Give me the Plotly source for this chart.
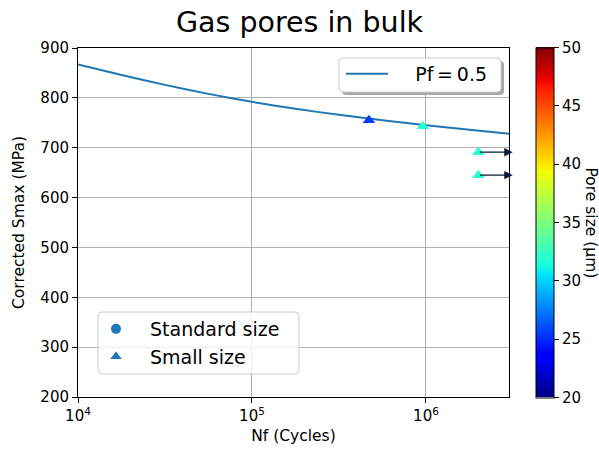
import numpy as np
import plotly.graph_objects as go

# ---------------- data ----------------
curve_nf = [1e4, 1.78e4, 3.16e4, 5.62e4, 1e5, 1.78e5, 3.16e5, 5.62e5, 1e6, 1.78e6, 3e6]
curve_s = [867, 846, 826, 808, 792, 778, 766, 755, 745, 736, 728]
curve_name = "\u2003\u2006Pf\u2009=\u20090.5"

pts_nf = [4.7e5, 9.6e5, 2.0e6, 2.0e6]
pts_s = [755, 743, 691, 645]
pts_pore = [25.5, 32.0, 32.0, 32.0]

runout_start = [2.0e6, 2.0e6]
runout_end = [3.15e6, 3.15e6]
runout_s = [691, 645]

x_tickvals = [1e4, 1e5, 1e6]
x_ticktext = ["10<sup>4</sup>", "10<sup>5</sup>", "10<sup>6</sup>"]
y_tickvals = [200, 300, 400, 500, 600, 700, 800, 900]
cb_tickvals = [20, 25, 30, 35, 40, 45, 50]

# ---------------- style helpers ----------------
W, H = 599, 453
L, R, T, B = 78, 509, 48, 397  # plot-area edges in pixels


def px_x(px):
    return (px - L) / (R - L)


def px_y(py):
    return (B - py) / (B - T)


def jet_scale():
    red = [(0, 0), (0.35, 0), (0.66, 1), (0.89, 1), (1, 0.5)]
    green = [(0, 0), (0.125, 0), (0.375, 1), (0.64, 1), (0.91, 0), (1, 0)]
    blue = [(0, 0.5), (0.11, 1), (0.34, 1), (0.65, 0), (1, 0)]
    stops = sorted(set([p for p, _ in red + green + blue]))
    out = []
    for s in stops:
        c = [np.interp(s, [p for p, _ in ch], [v for _, v in ch]) for ch in (red, green, blue)]
        out.append([s, "rgb(%d,%d,%d)" % tuple(int(round(v * 255)) for v in c)])
    return out


def rounded(x0, y0, x1, y1, r=4):
    rx = r / (R - L)
    ry = r / (B - T)
    X0, X1 = px_x(x0), px_x(x1)
    Y0, Y1 = px_y(y0), px_y(y1)
    return (f"M{X0+rx},{Y0} L{X1-rx},{Y0} Q{X1},{Y0} {X1},{Y0-ry} "
            f"L{X1},{Y1+ry} Q{X1},{Y1} {X1-rx},{Y1} L{X0+rx},{Y1} "
            f"Q{X0},{Y1} {X0},{Y1+ry} L{X0},{Y0-ry} Q{X0},{Y0} {X0+rx},{Y0} Z")


FONT = "DejaVu Sans"
BLUE = "#1f77b4"
TICK = 15
LAB = 15.5

fig = go.Figure()

fig.add_trace(go.Scatter(
    x=curve_nf, y=curve_s, mode="lines", name=curve_name,
    line=dict(color=BLUE, width=2, shape="spline", smoothing=0.6),
    legend="legend", showlegend=True,
))

fig.add_trace(go.Scatter(
    x=pts_nf, y=pts_s, mode="markers", showlegend=False,
    marker=dict(
        symbol="triangle-up", size=11, color=pts_pore,
        colorscale=jet_scale(), cmin=20, cmax=50,
        showscale=True,
        colorbar=dict(
            x=px_x(536), xanchor="left", y=0.5, yanchor="middle",
            thickness=18, thicknessmode="pixels",
            len=350, lenmode="pixels", xpad=0, ypad=0,
            outlinewidth=1, outlinecolor="black",
            tickvals=cb_tickvals, ticks="outside", ticklen=5,
            tickcolor="black",
            tickfont=dict(family=FONT, size=TICK, color="black"),
        ),
    ),
))

fig.add_trace(go.Scatter(
    x=[None], y=[None], mode="markers", name="Standard size",
    marker=dict(symbol="circle", size=10, color=BLUE),
    legend="legend2",
))
fig.add_trace(go.Scatter(
    x=[None], y=[None], mode="markers", name="Small size",
    marker=dict(symbol="triangle-up", size=10, color=BLUE),
    legend="legend2",
))

annotations = []
for xs, xe, s in zip(runout_start, runout_end, runout_s):
    annotations.append(dict(
        x=np.log10(xe), y=s, ax=np.log10(xs), ay=s,
        xref="x", yref="y", axref="x", ayref="y",
        showarrow=True, arrowhead=2, arrowsize=1.3, arrowwidth=1.3,
        arrowcolor="#0a1a33", text="",
    ))

annotations.append(dict(
    x=px_x(591), y=0.5, xref="paper", yref="paper",
    text="Pore size (\u00b5m)", textangle=90, showarrow=False,
    font=dict(family=FONT, size=LAB, color="black"),
    xanchor="center", yanchor="middle",
))

shapes = [
    dict(type="path", path=rounded(342, 61, 504, 95), xref="paper", yref="paper",
         fillcolor="#a8a8a8", line=dict(width=0), layer="above"),
    dict(type="path", path=rounded(339, 58, 501, 92), xref="paper", yref="paper",
         fillcolor="white", line=dict(color="#cccccc", width=1), layer="above"),
    dict(type="path", path=rounded(98, 312, 299, 374), xref="paper", yref="paper",
         fillcolor="rgba(255,255,255,0.8)", line=dict(color="#cccccc", width=1), layer="above"),
]

axis_common = dict(
    showline=True, linecolor="black", linewidth=1, mirror=True,
    ticks="outside", ticklen=5, tickcolor="black",
    showgrid=True, gridcolor="#b0b0b0", gridwidth=1, zeroline=False,
    tickfont=dict(family=FONT, size=TICK, color="black"),
)

fig.update_layout(
    width=W, height=H,
    margin=dict(l=L, r=W - R, t=T, b=H - B, autoexpand=False),
    paper_bgcolor="white", plot_bgcolor="white",
    title=dict(text="Gas pores in bulk", x=0.5, xanchor="center",
               y=1 - 22 / H, yanchor="middle",
               font=dict(family=FONT, size=28.5, color="black")),
    xaxis=dict(type="log", range=[4, np.log10(3e6)],
               tickvals=x_tickvals, ticktext=x_ticktext,
               title=dict(text="Nf (Cycles)", standoff=6,
                          font=dict(family=FONT, size=LAB, color="black")),
               **axis_common),
    yaxis=dict(range=[200, 900], tickvals=y_tickvals,
               title=dict(text="Corrected Smax (MPa)", standoff=11,
                          font=dict(family=FONT, size=LAB, color="black")),
               **axis_common),
    legend=dict(x=px_x(341), y=px_y(55), xanchor="left", yanchor="top",
                bgcolor="rgba(0,0,0,0)", borderwidth=0,
                font=dict(family=FONT, size=19, color="black"),
                itemwidth=42),
    legend2=dict(x=px_x(82), y=px_y(310), xanchor="left", yanchor="top",
                 bgcolor="rgba(0,0,0,0)", borderwidth=0,
                 font=dict(family=FONT, size=19, color="black"),
                 itemwidth=58),
    shapes=shapes,
    annotations=annotations,
)

fig.write_html(
    "out.html",
    config={"displayModeBar": False},
    post_script="document.body.style.margin='0';document.body.style.overflow='hidden';"
                "document.documentElement.style.overflow='hidden';",
)
